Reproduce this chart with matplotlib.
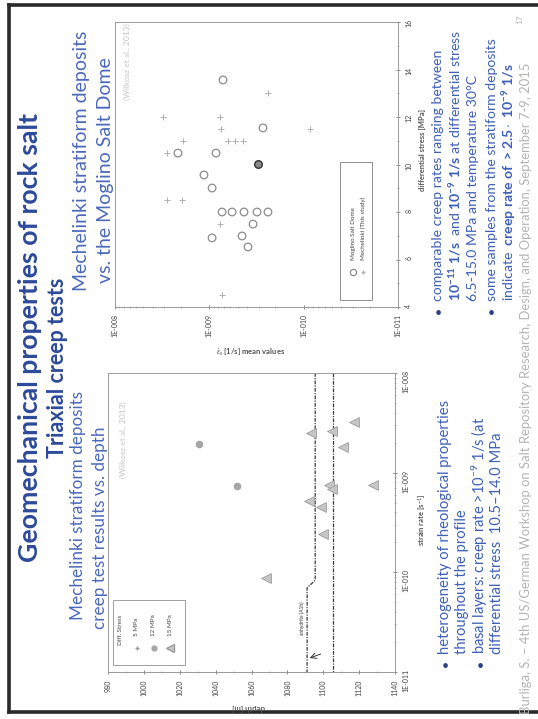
import matplotlib
matplotlib.use("Agg")
import matplotlib.pyplot as plt
from matplotlib.ticker import MultipleLocator, LogLocator, NullFormatter
from matplotlib.patches import Rectangle
from matplotlib.lines import Line2D

W, H, DPI = 538, 719, 100

plt.rcParams['font.family'] = ['Lato', 'DejaVu Sans']
plt.rcParams['mathtext.fontset'] = 'custom'
plt.rcParams['mathtext.rm'] = 'Lato'
plt.rcParams['mathtext.it'] = 'Lato:italic'
plt.rcParams['mathtext.bf'] = 'Lato:bold'

# ---------------- data: lower chart (creep rate vs depth) ----------------
depth_12mpa = [1031, 1052]
rate_12mpa = [1.95e-9, 7.4e-10]
depth_15mpa = [1068, 1093, 1105, 1117, 1111, 1103, 1105, 1092, 1099, 1100, 1128]
rate_15mpa = [8.7e-11, 2.5e-9, 2.6e-9, 3.2e-9, 1.8e-9, 7.6e-10, 6.8e-10,
              5.2e-10, 4.5e-10, 2.4e-10, 7.6e-10]
boundary_a_depth = [1095.5, 1095.5, 1091.0, 1091.0]
boundary_a_rate = [1e-8, 8.3e-11, 7.0e-11, 1e-11]
boundary_b_depth = [1105.5, 1105.5]
boundary_b_rate = [1e-8, 1e-11]
depth_ticks = [980, 1000, 1020, 1040, 1060, 1080, 1100, 1120, 1140]
rate_ticks = [1e-11, 1e-10, 1e-9, 1e-8]
rate_ticklabels = ["1E-011", "1E-010", "1E-009", "1E-008"]
lower_legend_title = "Diff. Stress"
lower_legend_labels = ["5 MPa", "12 MPa", "15 MPa"]

# ---------------- data: upper chart (creep rate vs differential stress) ----
moglino_rate = [7.16e-10, 2.70e-10, 8.49e-10, 1.14e-9, 9.35e-10, 2.15e-9,
                7.33e-10, 5.74e-10, 4.29e-10, 3.12e-10, 2.39e-10, 3.44e-10,
                9.35e-10, 4.50e-10, 3.89e-10]
moglino_stress = [13.56, 11.54, 10.48, 9.56, 9.01, 10.48, 8.0, 8.0, 8.0, 8.0,
                  8.0, 7.49, 6.91, 6.99, 6.53]
moglino_dark_rate = [3.05e-10]
moglino_dark_stress = [10.02]
mech_rate = [2.39e-10, 3.10e-9, 7.71e-10, 7.52e-10, 8.55e-11, 1.90e-9, 6.34e-10,
             5.33e-10, 4.40e-10, 2.81e-9, 2.81e-9, 1.95e-9, 7.71e-10, 7.33e-10]
mech_stress = [13.0, 12.0, 12.0, 11.5, 11.5, 11.0, 11.0, 11.0, 11.0, 10.5,
               8.5, 8.5, 7.5, 4.5]
stress_ticks = [4, 6, 8, 10, 12, 14, 16]
upper_legend_labels = ["Moglino Salt Dome", "Mechelinki (This study)"]

TITLE = "Geomechanical properties of rock salt"
SUBTITLE = "Triaxial creep tests"
LOW_HEAD = ["Mechelinki stratiform deposits", "creep test results vs. depth"]
UP_HEAD = ["Mechelinki stratiform deposits", "vs. the Moglino Salt Dome"]
UP_BULLETS = [
    ["comparable creep rates ranging between",
     r"$\mathbf{10^{-11}\ 1/s}$  and $\mathbf{10^{-9}\ 1/s}$ at differential stress",
     "6.5-15.0 MPa and temperature 30°C"],
    ["some samples from the stratiform deposits",
     r"indicate  $\mathbf{creep\ rate\ of\ >2.5\cdot\ 10^{-9}\ 1/s}$"],
]
LOW_BULLETS = [
    ["heterogeneity of rheological properties", "throughout the profile"],
    [r"basal layers: creep rate >$10^{-9}$ 1/s (at",
     "differential stress  10.5–14.0 MPa"],
]
FOOTER = ("Burliga, S. – 4th US/German Workshop on Salt Repository Research, "
          "Design, and Operation, September 7-9, 2015")
PAGE = "17"
CITE = "(Wilkosz et al., 2013)"

TITLE_C = '#2C4A9A'
HEAD_C = '#4A69BA'
BUL_C = '#3E60B8'
GREY = '#555555'


def fx(x):
    return x / W


def fy(y):
    return 1 - y / H


def rect(x0, y0, x1, y1):
    return [x0 / W, 1 - y1 / H, (x1 - x0) / W, (y1 - y0) / H]


fig = plt.figure(figsize=(W / DPI, H / DPI), dpi=DPI)
fig.patch.set_facecolor('white')

# slide frame
for xs, ys in [((9, 540), (5, 5)), ((9, 9), (5, 712)), ((9, 540), (712, 712))]:
    fig.add_artist(Line2D([fx(v) for v in xs], [fy(v) for v in ys],
                          transform=fig.transFigure, color='#2a2a2a', lw=2.6))


def vtext(x, y, s, **kw):
    kw.setdefault('rotation', 90)
    kw.setdefault('ha', 'center')
    kw.setdefault('va', 'bottom')
    return fig.text(fx(x), fy(y), s, **kw)


# titles
vtext(30, 337, TITLE, va='center', fontsize=19.2, fontweight='bold', color=TITLE_C)
vtext(58, 368, SUBTITLE, va='center', fontsize=15.5, fontweight='bold', color=TITLE_C)
vtext(78, 506, LOW_HEAD[0], va='center', fontsize=12.3, color=HEAD_C)
vtext(100, 528, LOW_HEAD[1], va='center', fontsize=12.3, color=HEAD_C)
vtext(81, 161, UP_HEAD[0], va='center', fontsize=14, color=HEAD_C)
vtext(106, 170, UP_HEAD[1], va='center', fontsize=14, color=HEAD_C)


def style_axes(ax):
    for s in ax.spines.values():
        s.set_color('#9a9a9a')
        s.set_linewidth(0.7)
    ax.tick_params(which='both', direction='inout', colors='#777777',
                   labelcolor='#444444', labelsize=5, labelrotation=90)
    ax.tick_params(which='major', length=3.5, width=0.6)
    ax.tick_params(which='minor', length=2, width=0.4)


# ---------------- lower chart ----------------
ax1 = fig.add_axes(rect(108, 373, 395, 672))
ax1.set_xlim(980, 1140)
ax1.set_yscale('log')
ax1.set_ylim(1e-11, 1e-8)
ax1.yaxis.tick_right()
ax1.set_xticks(depth_ticks, [str(v) for v in depth_ticks])
ax1.xaxis.set_minor_locator(MultipleLocator(10))
ax1.set_yticks(rate_ticks, rate_ticklabels)
ax1.yaxis.set_minor_locator(LogLocator(base=10, subs=range(2, 10)))
ax1.yaxis.set_minor_formatter(NullFormatter())
style_axes(ax1)
ax1.plot(boundary_a_depth, boundary_a_rate, color='#3a3a3a', lw=0.9,
         ls=(0, (3, 1, 1, 1)))
ax1.plot(boundary_b_depth, boundary_b_rate, color='#3a3a3a', lw=0.9,
         ls=(0, (3, 1, 1, 1)))
ax1.scatter(depth_12mpa, rate_12mpa, marker='o', s=20, c='#a6a6a6', zorder=3)
ax1.scatter(depth_15mpa, rate_15mpa, marker='<', s=50, fc='#c6c6c6',
            ec='#9c9c9c', lw=0.6, zorder=3)
ax1.annotate('', xy=(1091, 1.35e-11), xytext=(1100, 1.55e-11),
             arrowprops=dict(arrowstyle='->', lw=0.7, color='#333333'))
ax1.text(1088.5, 3.5e-11, "anhydrite (A1h)", rotation=90, ha='center',
         va='center', fontsize=3.5, color='#333333')

vtext(422, 520, r"strain rate [s$^{-1}$]", va='center', fontsize=5.5,
      fontweight='bold', color=GREY)
fig.text(fx(249), fy(707), "depth [m]", rotation=180, ha='center', va='center',
         fontsize=5.5, fontweight='bold', color=GREY)
vtext(123, 478, CITE, fontsize=6, color='#c4c4c4')

# lower legend
fig.add_artist(Rectangle((fx(113), fy(665)), (185 - 113) / W, (665 - 600) / H,
                         transform=fig.transFigure, fill=False, ec='#a0a0a0', lw=0.7))
vtext(120, 645, lower_legend_title, fontsize=4.5, color='#444444')
leg_markers = [dict(marker='+', ms=3, color='#999999', ls='none'),
               dict(marker='o', ms=3.5, color='#a6a6a6', ls='none'),
               dict(marker='<', ms=6, mfc='#c6c6c6', mec='#9c9c9c', ls='none')]
for i, (lab, mk) in enumerate(zip(lower_legend_labels, leg_markers)):
    x = 137 + 16.5 * i
    fig.add_artist(Line2D([fx(x)], [fy(648)], transform=fig.transFigure, **mk))
    vtext(x, 636, lab, fontsize=4.5, color='#444444')

# ---------------- upper chart ----------------
ax2 = fig.add_axes(rect(115, 22, 398, 307))
ax2.set_xscale('log')
ax2.set_xlim(1e-8, 1e-11)
ax2.set_ylim(4, 16)
ax2.yaxis.tick_right()
ax2.set_xticks(rate_ticks, rate_ticklabels)
ax2.xaxis.set_minor_locator(LogLocator(base=10, subs=range(2, 10)))
ax2.xaxis.set_minor_formatter(NullFormatter())
ax2.set_yticks(stress_ticks, [str(v) for v in stress_ticks])
ax2.yaxis.set_minor_locator(MultipleLocator(1))
style_axes(ax2)
ax2.scatter(mech_rate, mech_stress, marker='+', s=16, c='#b0b0b0', lw=0.7, zorder=3)
ax2.scatter(moglino_rate, moglino_stress, marker='o', s=30, fc='none',
            ec='#8c8c8c', lw=0.9, zorder=3)
ax2.scatter(moglino_dark_rate, moglino_dark_stress, marker='o', s=30,
            fc='#8a8a8a', ec='#333333', lw=1.0, zorder=4)

vtext(422, 150, "differential stress [MPa]", va='center', fontsize=5.5,
      fontweight='bold', color=GREY)
fig.text(fx(251), fy(352), r"$\dot{\varepsilon}_s$ [1/s] mean values",
         ha='center', va='center', fontsize=5.5, fontweight='bold', color=GREY)
vtext(127, 100, CITE, fontsize=6, color='#c4c4c4')

# upper legend
fig.add_artist(Rectangle((fx(340), fy(300)), (372 - 340) / W, (300 - 162) / H,
                         transform=fig.transFigure, fill=False, ec='#909090', lw=0.7))
up_markers = [dict(marker='o', ms=4.5, mfc='none', mec='#8c8c8c', mew=0.9, ls='none'),
              dict(marker='+', ms=3.5, color='#b0b0b0', ls='none')]
for i, (lab, mk) in enumerate(zip(upper_legend_labels, up_markers)):
    x = 353 + 10 * i
    fig.add_artist(Line2D([fx(x)], [fy(272)], transform=fig.transFigure, **mk))
    vtext(x, 260, lab, fontsize=4.5, color='#444444')

# ---------------- bullets ----------------
def bullets(x0, ystart, groups, dx, fs):
    x = x0
    for g in groups:
        fig.text(fx(x), fy(ystart + 12), "•", ha='center', va='center',
                 fontsize=9, color='#2a3f88')
        for line in g:
            vtext(x, ystart, line, fontsize=fs, color=BUL_C)
            x += dx
        x += 1


bullets(438, 301, UP_BULLETS, 17.5, 10.1)
bullets(445, 654, LOW_BULLETS, 17, 10.6)

# footer
vtext(526, 714, FOOTER, fontsize=9.4, color='#b4b4b4')
vtext(520, 24, PAGE, fontsize=6, color='#b4b4b4')

fig.savefig("out.png", dpi=DPI, facecolor='white')
